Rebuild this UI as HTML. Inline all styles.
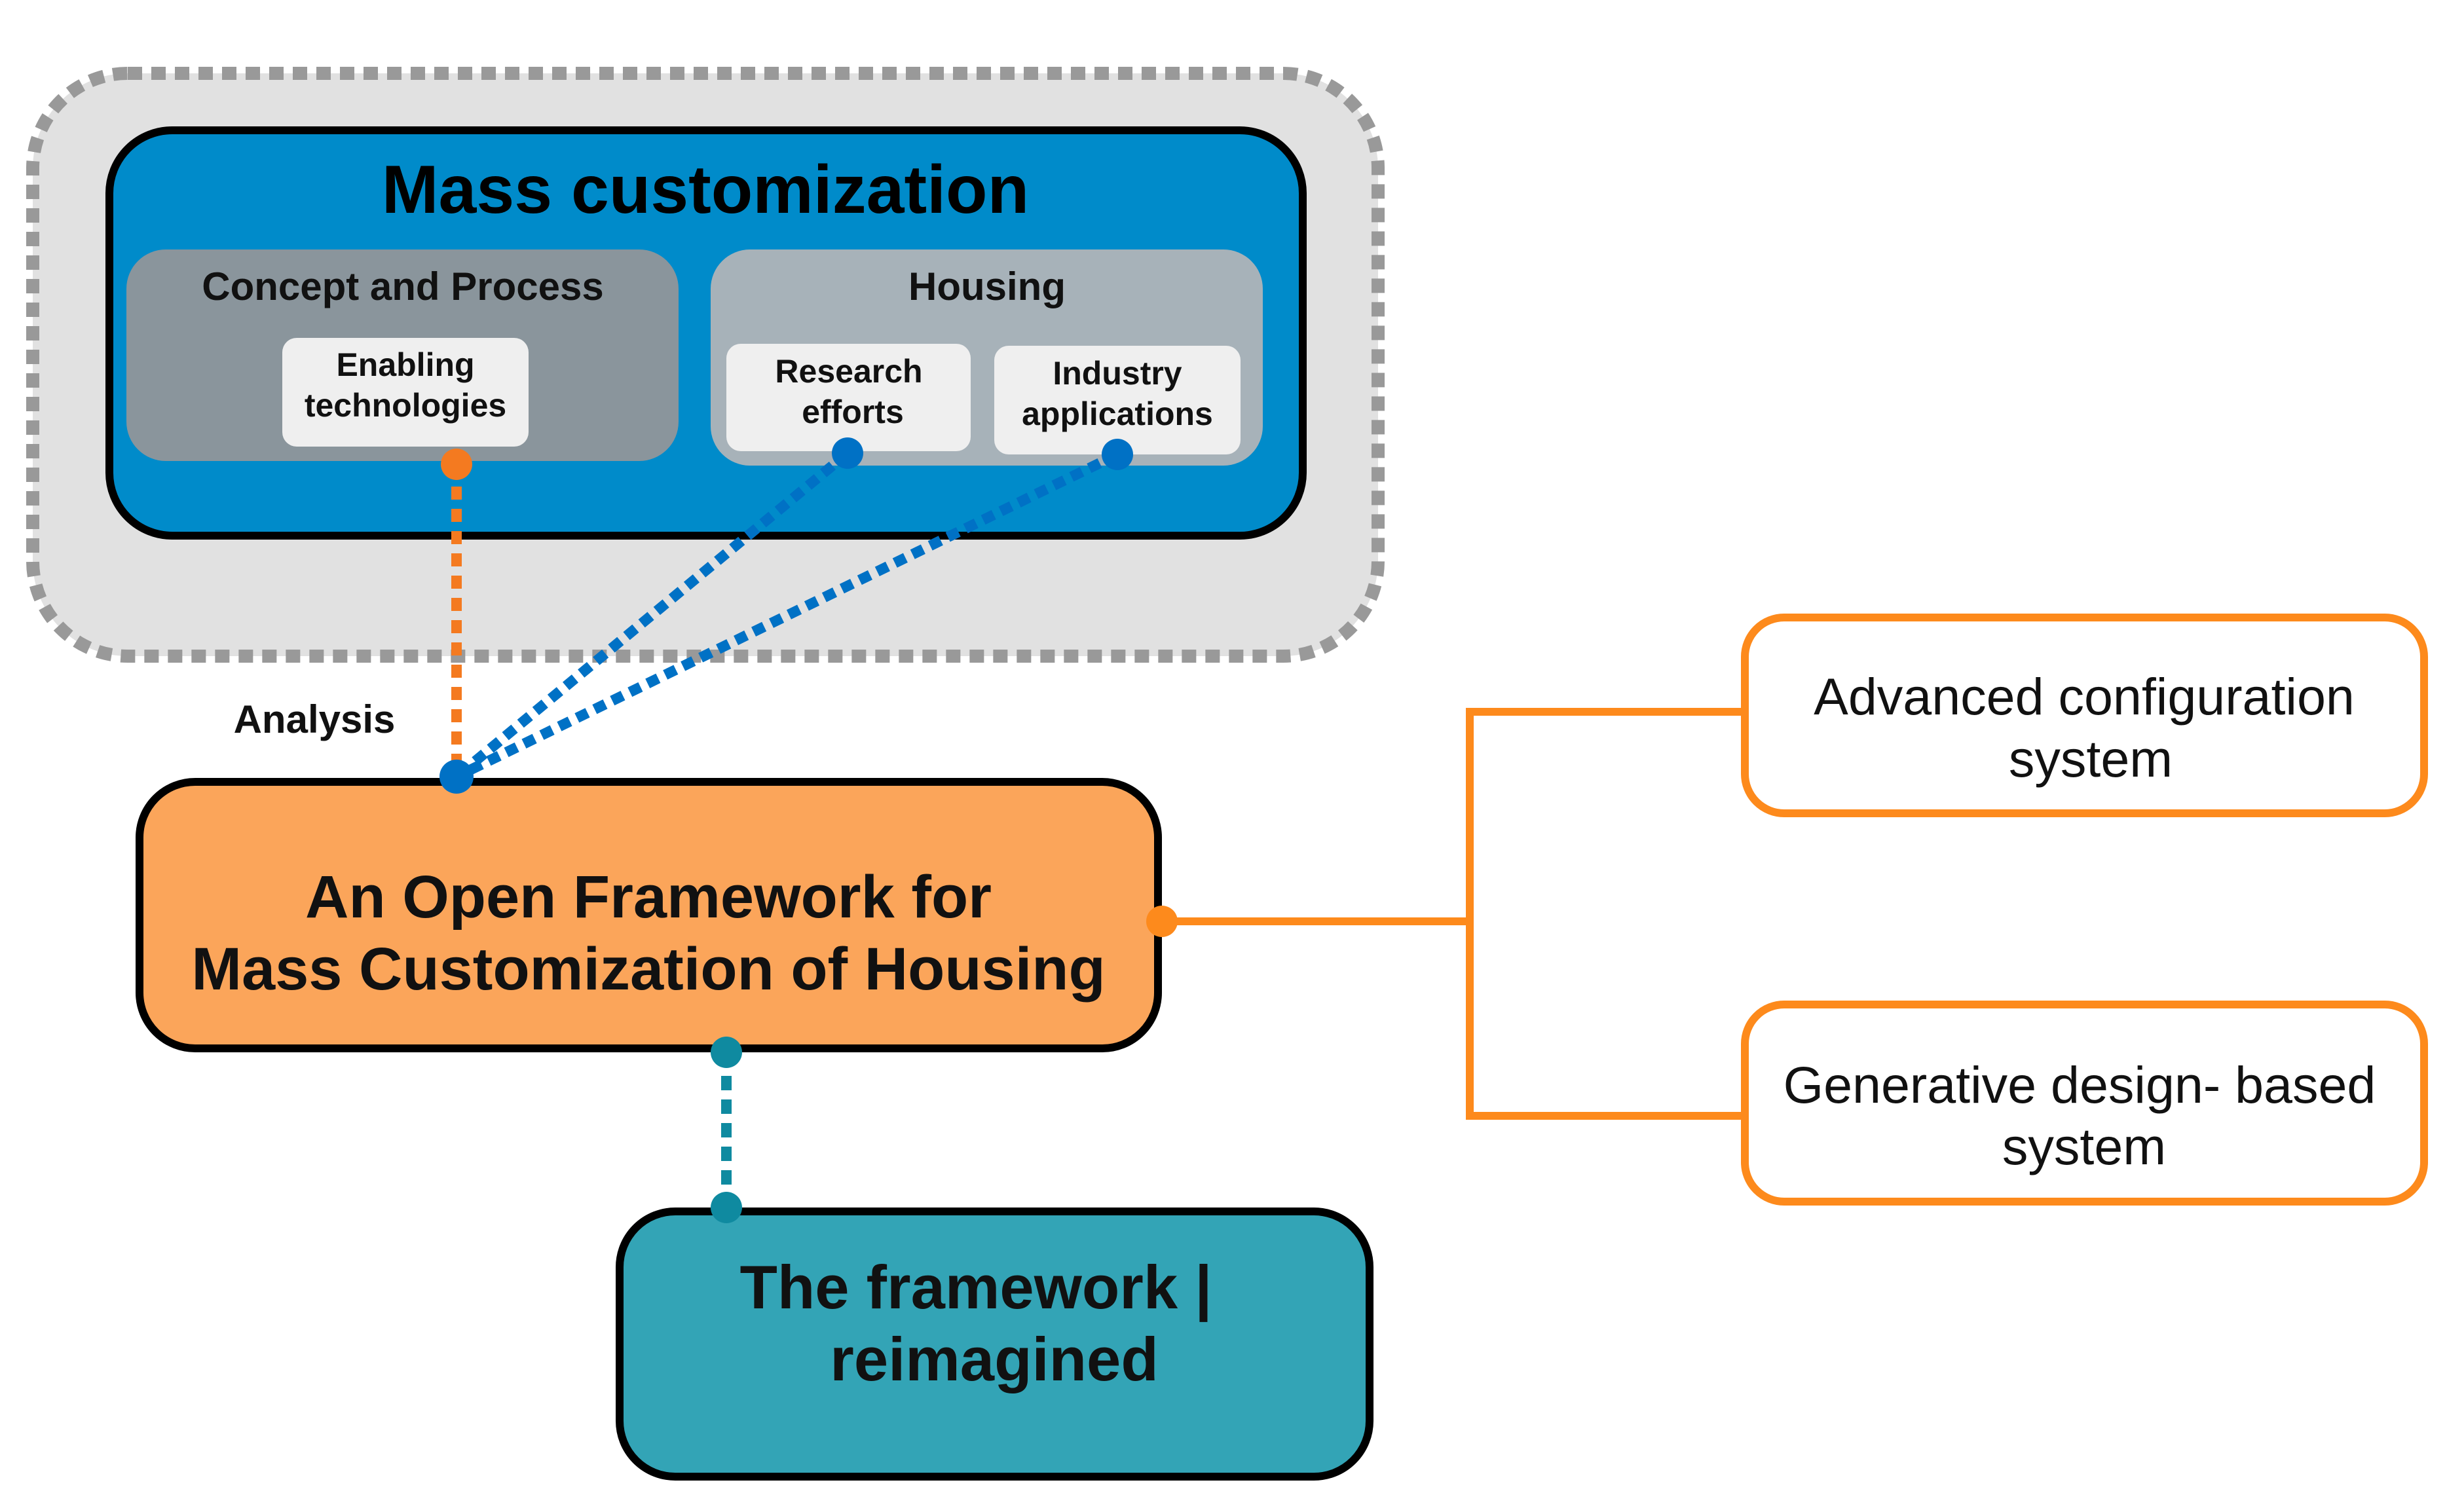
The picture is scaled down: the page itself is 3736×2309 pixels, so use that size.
<!DOCTYPE html>
<html><head><meta charset="utf-8"><style>
html,body{margin:0;padding:0;background:#fff;}
svg{display:block;}
text{font-family:"Liberation Sans",Arial,sans-serif;}
</style></head><body>
<svg width="3736" height="2309" viewBox="0 0 3736 2309" xmlns="http://www.w3.org/2000/svg">
<rect x="0" y="0" width="3736" height="2309" fill="#fff"/>
<rect x="50" y="112" width="2054" height="890" rx="145" fill="#e1e1e1" stroke="#999" stroke-width="20" stroke-dasharray="22 14"/>
<rect x="167" y="199" width="1822" height="619" rx="96" fill="#008bca" stroke="#000" stroke-width="12"/>
<text x="1077" y="325" font-size="104" font-weight="bold" text-anchor="middle" fill="#000">Mass customization</text>
<rect x="193" y="381" width="843" height="323" rx="60" fill="#8a959c"/>
<text x="615" y="458" font-size="60" font-weight="bold" text-anchor="middle" fill="#111">Concept and Process</text>
<rect x="431" y="516" width="376" height="166" rx="22" fill="#efefef"/>
<text x="619" y="574" font-size="50" font-weight="bold" text-anchor="middle" fill="#111">Enabling</text>
<text x="619" y="636" font-size="50" font-weight="bold" text-anchor="middle" fill="#111">technologies</text>
<rect x="1085" y="381" width="843" height="330" rx="60" fill="#a7b2b9"/>
<text x="1507" y="458" font-size="60" font-weight="bold" text-anchor="middle" fill="#111">Housing</text>
<rect x="1109" y="525" width="373" height="164" rx="22" fill="#efefef"/>
<text x="1296" y="584" font-size="50" font-weight="bold" text-anchor="middle" fill="#111">Research</text>
<text x="1302" y="646" font-size="50" font-weight="bold" text-anchor="middle" fill="#111">efforts</text>
<rect x="1518" y="528" width="376" height="166" rx="22" fill="#efefef"/>
<text x="1706" y="587" font-size="50" font-weight="bold" text-anchor="middle" fill="#111">Industry</text>
<text x="1706" y="649" font-size="50" font-weight="bold" text-anchor="middle" fill="#111">applications</text>
<line x1="697" y1="709" x2="697" y2="1186" stroke="#f47a20" stroke-width="16" stroke-dasharray="20 14"/>
<line x1="1294" y1="692" x2="697" y2="1186" stroke="#0071c5" stroke-width="16" stroke-dasharray="18 12"/>
<line x1="1706" y1="694" x2="697" y2="1186" stroke="#0071c5" stroke-width="16" stroke-dasharray="18 12"/>
<circle cx="697" cy="709" r="24" fill="#f47a20"/>
<circle cx="1294" cy="692" r="24" fill="#0071c5"/>
<circle cx="1706" cy="694" r="24" fill="#0071c5"/>
<text x="480" y="1119" font-size="60" font-weight="bold" text-anchor="middle" fill="#111">Analysis</text>
<polyline points="1774,1407 2244,1407" fill="none" stroke="#fd8a1c" stroke-width="12"/>
<polyline points="2658,1087 2244,1087 2244,1704 2658,1704" fill="none" stroke="#fd8a1c" stroke-width="12"/>
<rect x="213" y="1194" width="1555" height="407" rx="85" fill="#fba55a" stroke="#000" stroke-width="12"/>
<text x="990" y="1401" font-size="92" font-weight="bold" text-anchor="middle" fill="#111">An Open Framework for</text>
<text x="990" y="1511" font-size="92" font-weight="bold" text-anchor="middle" fill="#111">Mass Customization of Housing</text>
<circle cx="697" cy="1186" r="26" fill="#0071c5"/>
<circle cx="1774" cy="1407" r="24" fill="#fd8a1c"/>
<rect x="2664" y="943" width="1037" height="299" rx="60" fill="#fff" stroke="#fd8a1c" stroke-width="12"/>
<text x="3182" y="1091" font-size="79" text-anchor="middle" fill="#111">Advanced configuration</text>
<text x="3192" y="1186" font-size="79" text-anchor="middle" fill="#111">system</text>
<rect x="2664" y="1534" width="1037" height="301" rx="60" fill="#fff" stroke="#fd8a1c" stroke-width="12"/>
<text x="3175" y="1684" font-size="79" text-anchor="middle" fill="#111">Generative design- based</text>
<text x="3182" y="1778" font-size="79" text-anchor="middle" fill="#111">system</text>
<line x1="1109" y1="1607" x2="1109" y2="1844" stroke="#0f8aa0" stroke-width="16" stroke-dasharray="22 14"/>
<rect x="946" y="1850" width="1145" height="405" rx="85" fill="#33a4b6" stroke="#000" stroke-width="12"/>
<text x="1490" y="1998" font-size="94" font-weight="bold" text-anchor="middle" fill="#111">The framework |</text>
<text x="1518" y="2108" font-size="94" font-weight="bold" text-anchor="middle" fill="#111">reimagined</text>
<circle cx="1109" cy="1607" r="24" fill="#0f8aa0"/>
<circle cx="1109" cy="1844" r="24" fill="#0f8aa0"/>
</svg>
</body></html>
